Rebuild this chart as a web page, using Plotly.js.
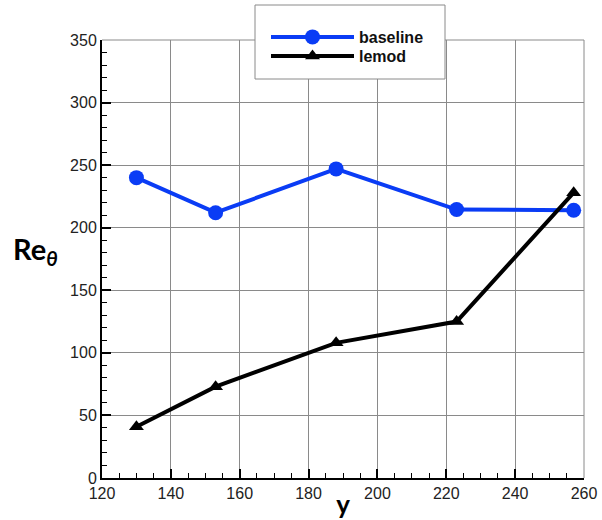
<!DOCTYPE html>
<html>
<head>
<meta charset="utf-8">
<script src="https://cdn.plot.ly/plotly-3.0.1.min.js"></script>
<style>
  html, body { margin: 0; padding: 0; background: #fff; }
  #chart { width: 602px; height: 520px; }
</style>
</head>
<body>
<div id="chart"></div>
<script>
// Streamwise stations and momentum-thickness Reynolds number for each case
const yStations = [130, 153, 188, 223, 257];
const baselineRe = [240, 212, 247, 214.5, 214];
const lemodRe = [41, 73, 108, 125, 228];

const xTicks = [120, 140, 160, 180, 200, 220, 240, 260];
const yTicks = [0, 50, 100, 150, 200, 250, 300, 350];

const sansFont = 'Liberation Sans, Arial, Helvetica, sans-serif';
const labelFont = 'Lato, Open Sans, sans-serif';

const traces = [
  {
    x: yStations, y: baselineRe, name: 'baseline',
    type: 'scatter', mode: 'lines+markers', legend: 'legend',
    line: { color: '#0a3cf5', width: 4 },
    marker: { color: '#0a3cf5', size: 15, symbol: 'circle' }
  },
  {
    x: yStations, y: lemodRe, name: 'lemod',
    type: 'scatter', mode: 'lines+markers', legend: 'legend2',
    line: { color: '#000000', width: 4 },
    marker: { color: '#000000', size: 13, symbol: 'triangle-up' }
  }
];

const axisCommon = {
  showline: true, linecolor: '#000', linewidth: 2,
  ticks: 'inside', ticklen: 9, tickwidth: 2, tickcolor: '#000',
  showgrid: true, gridcolor: '#8a8a8a', gridwidth: 1,
  zeroline: false,
  tickfont: { family: sansFont, size: 16, color: '#222' },
  fixedrange: true
};

// plot-area pixel helpers for placing the legend pieces
const PL = 102, PW = 482, PT = 40, PH = 438;
const px = v => (v - PL) / PW;
const py = v => (PT + PH - v) / PH;

const legendCommon = {
  xanchor: 'left', yanchor: 'middle',
  bgcolor: 'rgba(0,0,0,0)', borderwidth: 0,
  itemwidth: 83,
  font: { family: sansFont, size: 16, color: '#111', weight: 'bold' }
};

const layout = {
  width: 602, height: 520,
  margin: { l: PL, r: 18, t: PT, b: 42 },
  paper_bgcolor: '#fff', plot_bgcolor: '#fff',
  showlegend: true,
  xaxis: Object.assign({}, axisCommon, {
    range: [120, 260], tickvals: xTicks, ticktext: xTicks.map(String),
    minor: { dtick: 5, tick0: 120, ticks: 'inside', ticklen: 5, tickwidth: 1, tickcolor: '#000', showgrid: false },
    title: { text: '<b>y</b>', font: { family: labelFont, size: 26, color: '#000' }, standoff: 0 }
  }),
  yaxis: Object.assign({}, axisCommon, {
    range: [0, 350], tickvals: yTicks, ticktext: yTicks.map(String),
    minor: { dtick: 10, tick0: 0, ticks: 'inside', ticklen: 5, tickwidth: 1, tickcolor: '#000', showgrid: false }
  }),
  shapes: [
    // frame closing the top and right edges of the plot
    { type: 'line', xref: 'paper', yref: 'paper', x0: 0, x1: 1, y0: 1, y1: 1, line: { color: '#8a8a8a', width: 1 } },
    { type: 'line', xref: 'paper', yref: 'paper', x0: 1, x1: 1, y0: 0, y1: 1, line: { color: '#8a8a8a', width: 1 } },
    // legend box
    { type: 'rect', xref: 'paper', yref: 'paper', layer: 'above',
      x0: px(255), x1: px(445), y0: py(79), y1: py(5),
      fillcolor: '#fff', line: { color: '#8a8a8a', width: 1 } }
  ],
  legend: Object.assign({}, legendCommon, { x: px(266), y: py(37) }),
  legend2: Object.assign({}, legendCommon, { x: px(266), y: py(56) }),
  annotations: [
    {
      text: '<b>Re<sub><i>θ</i></sub></b>',
      xref: 'paper', yref: 'paper',
      x: px(35), y: py(250),
      xanchor: 'center', yanchor: 'middle', showarrow: false,
      font: { family: labelFont, size: 29, color: '#000' }
    }
  ]
};

Plotly.newPlot('chart', traces, layout, { displayModeBar: false, staticPlot: true });
</script>
</body>
</html>
